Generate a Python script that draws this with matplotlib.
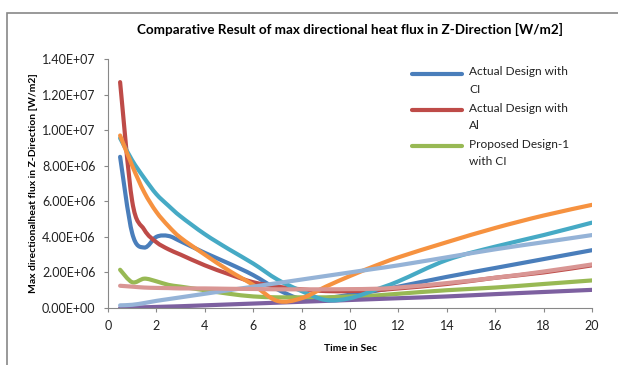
import matplotlib
matplotlib.use("Agg")
import numpy as np
import matplotlib.pyplot as plt
from matplotlib.path import Path
from matplotlib.patches import PathPatch, Rectangle
from matplotlib.lines import Line2D
from matplotlib.ticker import FuncFormatter

plt.rcParams['font.family'] = ['Lato', 'DejaVu Sans']

# time steps (s) shared by every run
time_s = [0.5, 1, 1.5, 2, 2.5, 3, 4, 5, 6, 7, 8, 9, 10, 11, 12, 14, 16, 18, 20]

# max directional heat flux, in units of 1e6 W/m2
actual_ci = [8.5, 4.2, 3.4, 4.0, 4.05, 3.75, 3.1, 2.5, 1.85, 1.05, 0.5, 0.55, 0.75, 0.95, 1.2, 1.75, 2.25, 2.75, 3.25]
actual_al = [12.7, 6.0, 4.4, 3.7, 3.3, 3.0, 2.4, 1.9, 1.45, 1.2, 1.05, 0.95, 0.95, 1.0, 1.1, 1.35, 1.7, 2.0, 2.4]
proposed1_ci = [2.15, 1.45, 1.65, 1.5, 1.3, 1.2, 1.0, 0.8, 0.65, 0.6, 0.6, 0.6, 0.65, 0.7, 0.8, 1.0, 1.15, 1.35, 1.55]
run_4 = [0.0, 0.02, 0.04, 0.06, 0.08, 0.1, 0.15, 0.2, 0.25, 0.3, 0.35, 0.4, 0.45, 0.5, 0.55, 0.65, 0.78, 0.9, 1.02]
run_5 = [9.55, 8.3, 7.3, 6.4, 5.75, 5.15, 4.15, 3.3, 2.5, 1.6, 0.95, 0.45, 0.55, 1.0, 1.5, 2.7, 3.45, 4.1, 4.8]
run_6 = [9.7, 8.0, 6.5, 5.4, 4.6, 3.95, 3.0, 2.1, 1.3, 0.4, 0.55, 1.2, 1.8, 2.35, 2.85, 3.7, 4.5, 5.2, 5.8]
run_7 = [0.15, 0.18, 0.28, 0.4, 0.5, 0.6, 0.8, 1.0, 1.2, 1.4, 1.6, 1.8, 2.0, 2.2, 2.4, 2.85, 3.3, 3.7, 4.1]
run_8 = [1.25, 1.2, 1.15, 1.13, 1.12, 1.1, 1.1, 1.08, 1.07, 1.05, 1.05, 1.05, 1.06, 1.08, 1.15, 1.4, 1.7, 2.05, 2.45]

series = [
    (actual_ci, "#4A7EBB", "Actual Design with\nCI"),
    (actual_al, "#BE4B48", "Actual Design with\nAl"),
    (proposed1_ci, "#98B954", "Proposed Design-1\nwith CI"),
    (run_4, "#7D60A0", None),
    (run_5, "#46AAC5", None),
    (run_6, "#F69240", None),
    (run_7, "#95B3D7", None),
    (run_8, "#D99694", None),
]


def smooth_path(x, y):
    # cubic bezier through every point, like a spreadsheet "smoothed line"
    pts = np.column_stack([x, y])
    n = len(pts)
    verts = [pts[0]]
    codes = [Path.MOVETO]
    for i in range(n - 1):
        p0 = pts[max(i - 1, 0)]
        p1 = pts[i]
        p2 = pts[i + 1]
        p3 = pts[min(i + 2, n - 1)]
        verts += [p1 + (p2 - p0) / 6, p2 - (p3 - p1) / 6, p2]
        codes += [Path.CURVE4] * 3
    return Path(verts, codes)


fig = plt.figure(figsize=(6.18, 3.65), dpi=100)
ax = fig.add_axes([108 / 618, 1 - 308 / 365, 484 / 618, 249 / 365])

for vals, color, label in series:
    path = smooth_path(time_s, [v * 1e6 for v in vals])
    ax.add_patch(PathPatch(path, fill=False, edgecolor=color, lw=3.0,
                           capstyle='round', joinstyle='round'))

ax.set_xlim(0, 20)
ax.set_ylim(0, 1.4e7)
ax.set_xticks(range(0, 21, 2))
ax.set_yticks([i * 2e6 for i in range(8)])
ax.yaxis.set_major_formatter(FuncFormatter(lambda v, p: f"{v:.2E}"))
ax.tick_params(labelsize=9, length=3, color="#888888", labelcolor="#222222")
ax.tick_params(axis='x', pad=6)
ax.tick_params(axis='y', pad=6)
for side in ("top", "right"):
    ax.spines[side].set_visible(False)
for side in ("left", "bottom"):
    ax.spines[side].set_color("#888888")

ax.set_title("Comparative Result of max directional heat flux in Z-Direction [W/m2]",
             fontsize=9.7, fontweight="bold", pad=18)
ax.set_xlabel("Time in Sec", fontsize=7.5, fontweight="bold", labelpad=8)
ax.set_ylabel("Max directionalheat flux in Z-Direction [W/m2]", fontsize=7.5,
              fontweight="bold", labelpad=3)

# legend: key line level with the first line of each two-line label
key_y = [0.940, 0.795, 0.650]
for (vals, color, label), ky in zip(series[:3], key_y):
    ax.add_line(Line2D([0.628, 0.731], [ky, ky], transform=ax.transAxes,
                       color=color, lw=3.0, solid_capstyle='round', clip_on=False))
    ax.text(0.746, ky + 0.03, label, transform=ax.transAxes, fontsize=8.6,
            va="top", ha="left", linespacing=1.75, color="#222222")

# outer chart frame
fig.patches.append(Rectangle((7 / 618, -0.5), 1.2, 0.5 + 1 - 13 / 365,
                             transform=fig.transFigure, fill=False,
                             edgecolor="#888888", lw=1.2, clip_on=False))

fig.savefig("out.png", dpi=100)
